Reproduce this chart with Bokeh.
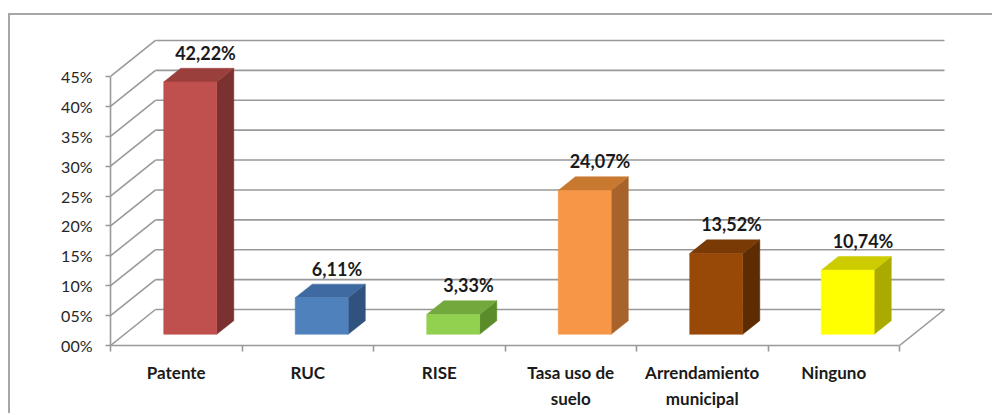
import numpy as np
from bokeh.plotting import figure
from bokeh.models import Range1d, FixedTicker
from bokeh.core.properties import value
from bokeh.embed import file_html
from bokeh.resources import INLINE

# ---- data ----
categories = ["Patente", "RUC", "RISE", "Tasa uso de\nsuelo", "Arrendamiento\nmunicipal", "Ninguno"]
values = [42.22, 6.11, 3.33, 24.07, 13.52, 10.74]
y_ticks = [0, 5, 10, 15, 20, 25, 30, 35, 40, 45]
y_tick_labels = ["00%", "05%", "10%", "15%", "20%", "25%", "30%", "35%", "40%", "45%"]
front_colors = ["#C0504D", "#4F81BD", "#92D050", "#F79646", "#984807", "#FFFF00"]
top_colors = ["#9B3F3D", "#3E6AA1", "#72A83C", "#C8792F", "#7A3A05", "#CCCC00"]
side_colors = ["#7B312F", "#30527E", "#5A8C2A", "#A8632A", "#5E2C03", "#AAAA00"]

# ---- geometry (pixel-derived scales) ----
PX_CAT = 131.5
PX_PCT = 5.978
FRAME_W = 884
FRAME_H = 330
x_end = FRAME_W / PX_CAT
y_end = FRAME_H / PX_PCT
DX = 45 / PX_CAT
DY = 36 / PX_PCT
F0, F1 = 0.31, 0.69
HW = 53 / PX_CAT / 2
n = len(categories)

GRID = "#999999"
FONT = "Lato"

p = figure(width=984, height=400, x_range=Range1d(0, x_end), y_range=Range1d(0, y_end),
           output_backend="svg", toolbar_location=None,
           min_border_left=100, min_border_right=0, min_border_top=0, min_border_bottom=70)
p.margin = (13, 0, 0, 8)
p.styles = {"border-top": "2px solid #A6A6A6", "border-left": "2px solid #A6A6A6"}
p.grid.visible = False
p.outline_line_color = None
p.background_fill_color = "white"
p.border_fill_color = "white"

yt = np.array(y_ticks, dtype=float)
p.segment(x0=np.full(len(yt), DX), y0=yt + DY, x1=np.full(len(yt), n + DX), y1=yt + DY,
          line_color=GRID, line_width=1.6)
p.segment(x0=np.zeros(len(yt)), y0=yt, x1=np.full(len(yt), DX), y1=yt + DY,
          line_color=GRID, line_width=1.6)
p.segment(x0=[n], y0=[0], x1=[n + DX], y1=[DY], line_color=GRID, line_width=1.6)

fx, fy, tx, ty, sx, sy = [], [], [], [], [], []
ddx = (F1 - F0) * DX
ddy = (F1 - F0) * DY
for i, v in enumerate(values):
    cx = i + 0.5 + F0 * DX
    b = F0 * DY
    l, r = cx - HW, cx + HW
    fx.append([l, r, r, l]); fy.append([b, b, b + v, b + v])
    tx.append([l, r, r + ddx, l + ddx]); ty.append([b + v, b + v, b + v + ddy, b + v + ddy])
    sx.append([r, r + ddx, r + ddx, r]); sy.append([b, b + ddy, b + v + ddy, b + v])
p.patches(xs=sx, ys=sy, fill_color=side_colors, line_color=side_colors, line_width=0.5)
p.patches(xs=tx, ys=ty, fill_color=top_colors, line_color=top_colors, line_width=0.5)
p.patches(xs=fx, ys=fy, fill_color=front_colors, line_color=front_colors, line_width=0.5)

lab_x = [i + 0.5 + 0.65 * DX for i in range(n)]
lab_y = [v + 0.65 * DY for v in values]
lab_t = [f"{v:.2f}%".replace(".", ",") for v in values]
p.text(x=lab_x, y=lab_y, text=lab_t, text_align="center", text_baseline="alphabetic",
       y_offset=-17, text_font=value(FONT), text_font_style="bold",
       text_font_size="18px", text_color="#1A1A1A")

ya = p.yaxis[0]
ya.ticker = FixedTicker(ticks=y_ticks)
ya.major_label_overrides = {float(t): s for t, s in zip(y_ticks, y_tick_labels)}
ya.bounds = (0, 45)
ya.axis_line_color = GRID
ya.axis_line_width = 1.6
ya.major_tick_line_color = GRID
ya.major_tick_line_width = 1.6
ya.major_tick_out = 5
ya.major_tick_in = 0
ya.minor_tick_line_color = None
ya.major_label_standoff = 13
ya.major_label_text_font = FONT
ya.major_label_text_font_size = "16px"
ya.major_label_text_color = "#262626"

xa = p.xaxis[0]
centers = [i + 0.5 for i in range(n)]
xa.ticker = FixedTicker(ticks=centers, minor_ticks=list(range(n + 1)))
xa.major_label_overrides = {c: s for c, s in zip(centers, categories)}
xa.bounds = (0, n)
xa.axis_line_color = GRID
xa.axis_line_width = 1.6
xa.major_tick_line_color = None
xa.major_tick_out = 0
xa.major_tick_in = 0
xa.minor_tick_line_color = GRID
xa.minor_tick_line_width = 1.6
xa.minor_tick_out = 6
xa.minor_tick_in = 0
xa.major_label_standoff = 10
xa.major_label_text_font = FONT
xa.major_label_text_font_style = "bold"
xa.major_label_text_font_size = "17px"
xa.major_label_text_color = "#1A1A1A"
xa.major_label_text_line_height = 1.25

open("out.html", "w").write(file_html(p, INLINE))
